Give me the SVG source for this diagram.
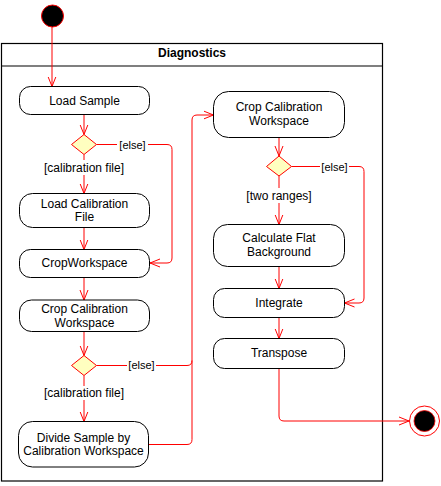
<svg xmlns="http://www.w3.org/2000/svg" width="441" height="486" viewBox="0 0 441 486">
<style>
.box{fill:#fff;stroke:#000;stroke-width:1}
.t{font-family:"Liberation Sans",Arial,sans-serif;font-size:12px;fill:#000;text-anchor:middle}
.g{font-family:"Liberation Sans",Arial,sans-serif;font-size:12px;fill:#000;text-anchor:middle}
.e{font-family:"Liberation Sans",Arial,sans-serif;font-size:11px;fill:#000;text-anchor:middle}
.c{fill:none;stroke:#f00;stroke-width:1}
.dia{fill:#ffffc0;stroke:#f00;stroke-width:1}
</style>
<defs>
<marker id="arr" markerUnits="userSpaceOnUse" markerWidth="12" markerHeight="10" refX="10" refY="5" orient="auto">
<path d="M0,1 L10,5 L0,9" fill="none" stroke="#f00" stroke-width="1"/>
</marker>
</defs>
<g id="frame">
<rect x="1.5" y="43.5" width="381" height="437.5" fill="#fff" stroke="#000" stroke-width="1.2"/>
<line x1="1.5" y1="66" x2="382.5" y2="66" stroke="#000" stroke-width="1.2"/>
<text x="192" y="57" class="t" font-weight="bold">Diagnostics</text>
</g>
<g id="connectors">
<path class="c" d="M52,27 V86.5" marker-end="url(#arr)"/>
<path class="c" d="M84,114.5 V134.5" marker-end="url(#arr)"/>
<path class="c" d="M84,154.5 V160"/>
<path class="c" d="M84,175 V193.5" marker-end="url(#arr)"/>
<path class="c" d="M96.5,144.5 H117"/>
<path class="c" d="M148,144.5 H167 Q172,144.5 172,149.5 V258 Q172,263 167,263 H150" marker-end="url(#arr)"/>
<path class="c" d="M84,227.5 V249.5" marker-end="url(#arr)"/>
<path class="c" d="M84,277.5 V300" marker-end="url(#arr)"/>
<path class="c" d="M84,331.5 V355.5" marker-end="url(#arr)"/>
<path class="c" d="M84,375.5 V386"/>
<path class="c" d="M84,400 V421.5" marker-end="url(#arr)"/>
<path class="c" d="M96.5,365.5 H127"/>
<path class="c" d="M156,365.5 H187 Q192,365.5 192,360.5"/>
<path class="c" d="M148.5,444.5 H187 Q192,444.5 192,439.5 V120 Q192,115 197,115 H213.5" marker-end="url(#arr)"/>
<path class="c" d="M279,137.5 V156" marker-end="url(#arr)"/>
<path class="c" d="M279,176 V188"/>
<path class="c" d="M279,203 V224.5" marker-end="url(#arr)"/>
<path class="c" d="M291.5,166.5 H320"/>
<path class="c" d="M349,166.5 H359 Q364,166.5 364,171.5 V298 Q364,303 359,303 H344.5" marker-end="url(#arr)"/>
<path class="c" d="M279,266.5 V288.5" marker-end="url(#arr)"/>
<path class="c" d="M279,317.5 V338.5" marker-end="url(#arr)"/>
<path class="c" d="M279,368.5 V416 Q279,421 284,421 H409" marker-end="url(#arr)"/>
<text x="132.5" y="148.5" class="e">[else]</text>
<text x="84" y="171.5" class="g">[calibration file]</text>
<text x="141.5" y="369" class="e">[else]</text>
<text x="84" y="397" class="g">[calibration file]</text>
<text x="279" y="199.5" class="g">[two ranges]</text>
<text x="334.5" y="171" class="e">[else]</text>
</g>
<g id="start"><circle cx="52.5" cy="16" r="11" fill="#000" stroke="#f00" stroke-width="1"/></g>
<g id="loadSample"><rect class="box" x="19.5" y="86.5" width="130" height="28" rx="11"/><text class="t" x="84.5" y="104.5">Load Sample</text></g>
<g id="decision1"><path class="dia" d="M84,134.5 L96.5,144.5 L84,154.5 L71.5,144.5 Z"/></g>
<g id="loadCalFile"><rect class="box" x="19.5" y="193.5" width="130" height="34" rx="13"/><text class="t" x="84.5" y="207.5">Load Calibration</text><text class="t" x="84.5" y="221">File</text></g>
<g id="cropWorkspace"><rect class="box" x="19.5" y="249.5" width="130" height="28" rx="11"/><text class="t" x="84.5" y="267">CropWorkspace</text></g>
<g id="cropCalLeft"><rect class="box" x="19.5" y="300" width="130" height="31.5" rx="12"/><text class="t" x="84.5" y="312.5">Crop Calibration</text><text class="t" x="84.5" y="327">Workspace</text></g>
<g id="decision2"><path class="dia" d="M84,355.5 L96.5,365.5 L84,375.5 L71.5,365.5 Z"/></g>
<g id="divide"><rect class="box" x="18.5" y="421.5" width="130" height="45.5" rx="14"/><text class="t" x="83.5" y="441.5">Divide Sample by</text><text class="t" x="83.5" y="455">Calibration Workspace</text></g>
<g id="cropCalRight"><rect class="box" x="213.5" y="91.5" width="131" height="46" rx="15"/><text class="t" x="279" y="111">Crop Calibration</text><text class="t" x="279" y="125">Workspace</text></g>
<g id="decision3"><path class="dia" d="M279,156 L291.5,166.5 L279,176 L266.5,166.5 Z"/></g>
<g id="calcFlat"><rect class="box" x="213.5" y="224.5" width="131" height="42" rx="14"/><text class="t" x="279" y="242">Calculate Flat</text><text class="t" x="279" y="255.5">Background</text></g>
<g id="integrate"><rect class="box" x="213.5" y="288.5" width="131" height="29" rx="11"/><text class="t" x="279" y="307">Integrate</text></g>
<g id="transpose"><rect class="box" x="213.5" y="338.5" width="131" height="30" rx="11"/><text class="t" x="279" y="357">Transpose</text></g>
<g id="end"><circle cx="424.5" cy="421" r="15" fill="#fff" stroke="#f00" stroke-width="1"/><circle cx="424.5" cy="421" r="10.5" fill="#000" stroke="#f00" stroke-width="0.8"/></g>
</svg>
